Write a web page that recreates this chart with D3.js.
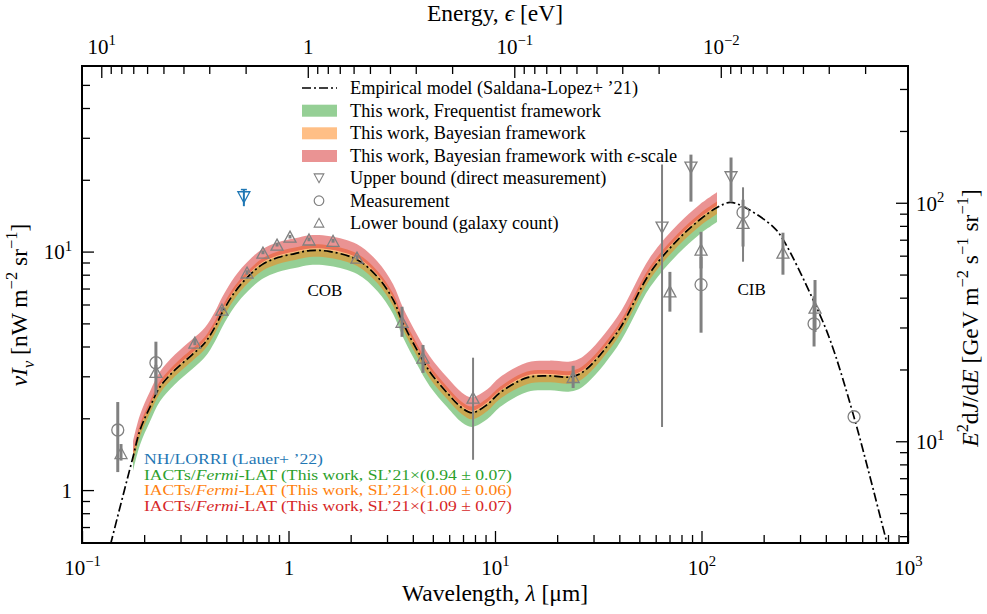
<!DOCTYPE html>
<html><head><meta charset="utf-8">
<script src="https://cdn.jsdelivr.net/npm/d3@7"></script>
<style>
body{margin:0;background:#fff}
svg{font-family:"Liberation Serif","Times New Roman",serif}
</style></head><body><svg id="c" width="987" height="614"></svg>
<script>
// ---------- DATA ----------
const modelLambda = [0.125,0.138,0.1595,0.1766,0.191,0.2134,0.2387,0.282,0.341,0.394,0.441,0.477,0.551,0.637,0.745,0.889,1.075,1.27,1.59,2.15,2.69,3.21,3.58,4.19,4.84,5.86,6.92,7.74,9.15,10.57,14.3,18.5,23.1,26.7,39.0,56.4,76.9,98.4,118.9,137.4,158.9,221.8,248.3,346.8,419,547,791,900];
const modelValue  = [0.43,0.60,0.98,1.376,1.787,2.23,2.71,3.19,3.69,4.15,4.84,5.54,6.79,7.85,8.82,9.44,9.81,10.1,10.0,9.25,7.85,6.29,5.03,3.87,3.13,2.56,2.21,2.11,2.28,2.56,2.96,3.01,2.98,3.13,4.57,8.16,11.23,13.63,15.3,16.07,15.46,12.74,11.23,6.29,4.27,2.03,0.60,0.39];

const bandLambda = [0.1766,0.191,0.2134,0.2387,0.282,0.341,0.394,0.441,0.477,0.551,0.637,0.745,0.889,1.075,1.27,1.59,2.15,2.69,3.21,3.58,4.19,4.84,5.86,6.92,7.74,9.15,10.57,14.3,18.5,23.1,26.7,39.0,56.4,76.9,98.4,118.9];
const freqLow  = [1.20,1.55,1.94,2.36,2.78,3.21,3.61,4.21,4.82,5.91,6.83,7.67,8.21,8.53,8.79,8.70,8.05,6.83,5.47,4.38,3.37,2.72,2.23,1.92,1.84,1.98,2.23,2.58,2.62,2.59,2.72,3.98,7.10,9.77,11.86,13.31];
const freqHigh = [1.39,1.80,2.25,2.74,3.22,3.73,4.19,4.89,5.60,6.86,7.93,8.91,9.53,9.91,10.20,10.10,9.34,7.93,6.35,5.08,3.91,3.16,2.59,2.23,2.13,2.30,2.59,2.99,3.04,3.01,3.16,4.62,8.24,11.34,13.77,15.45];
const bayesLow  = [1.29,1.68,2.10,2.55,3.00,3.47,3.90,4.55,5.21,6.38,7.38,8.29,8.87,9.22,9.49,9.40,8.70,7.38,5.91,4.73,3.64,2.94,2.41,2.08,1.98,2.14,2.41,2.78,2.83,2.80,2.94,4.30,7.67,10.56,12.81,14.38];
const bayesHigh = [1.46,1.89,2.36,2.87,3.38,3.91,4.40,5.13,5.87,7.20,8.32,9.35,10.01,10.40,10.71,10.60,9.81,8.32,6.67,5.33,4.10,3.32,2.71,2.34,2.24,2.42,2.71,3.14,3.19,3.16,3.32,4.84,8.65,11.90,14.45,16.22];
const epsLow  = [1.40,1.82,2.27,2.76,3.25,3.76,4.23,4.94,5.65,6.93,8.01,9.00,9.63,10.01,10.30,10.20,9.44,8.01,6.42,5.13,3.95,3.19,2.61,2.25,2.15,2.33,2.61,3.02,3.07,3.04,3.19,4.66,8.32,11.45,13.90,15.61];
const epsHigh = [1.60,2.07,2.59,3.14,3.70,4.28,4.81,5.61,6.43,7.88,9.11,10.23,10.95,11.38,11.72,11.60,10.73,9.11,7.30,5.83,4.49,3.63,2.97,2.56,2.45,2.64,2.97,3.43,3.49,3.46,3.63,5.30,9.47,13.03,15.81,17.75];

// lower bounds (galaxy counts)
const lowerLambda = [0.1545,0.228,0.352,0.476,0.630,0.752,0.880,1.017,1.257,1.643,2.146,3.546,4.48,7.83,23.9,70.3,99.5,158.9,248,354.6];
const lowerValue  = [1.43,3.13,4.15,5.71,8.17,9.90,10.7,11.55,11.24,11.1,9.44,5.08,3.59,2.44,2.98,6.81,10.2,13.2,9.9,5.82];
const lowerErrLo  = [1.33,2.95,4.05,5.60,8.00,9.75,10.5,11.35,11.05,10.9,9.25,4.39,3.10,1.34,2.68,5.60,8.5,10.5,8.0,4.6];
const lowerErrHi  = [1.56,3.35,4.30,5.85,8.35,10.1,10.9,11.75,11.45,11.3,9.65,5.87,4.06,3.59,3.32,8.22,12.1,16.5,12.0,7.6];
const lowerThinBar = [false,false,false,false,false,false,false,false,false,false,false,false,false,true,false,false,false,false,false,false];

// measurements
const measLambda = [0.149,0.228,99.5,158.9,350.8,548];
const measValue  = [1.786,3.42,7.27,14.6,4.98,2.03];
const measErrLo  = [1.19,2.51,4.57,9.07,4.0,2.03];
const measErrHi  = [2.34,4.19,9.5,18.6,6.5,2.03];
const measThinBar = [false,false,false,true,false,false];

// upper bounds (direct measurements)
const upperLambda = [64.4,88.9,139];
const upperValue  = [12.6,22.5,20.5];
const upperErrLo  = [1.84,16.2,16.1];
const upperErrHi  = [23.2,25.5,24.8];
const upperThinBar = [true,false,false];

// NH/LORRI
const lorriLambda = [0.608];
const lorriValue  = [16.9];
const lorriErrLo  = [15.5];
const lorriErrHi  = [18.2];

const xTickMajor = [0.1,1,10,100,1000];
const xTickLabels = [["10","−1"],["1",null],["10","1"],["10","2"],["10","3"]];
const yTickMajor = [1,10];
const yTickLabels = [["1",null],["10","1"]];
const eTickMajor = [10,1,0.1,0.01];
const eTickLabels = [["10","1"],["1",null],["10","−1"],["10","−2"]];
const y2TickMajor = [10,100];
const y2TickLabels = [["10","1"],["10","2"]];

const legendLabels = [
  [{t:"Empirical model (Saldana-Lopez+ ’21)"}],
  [{t:"This work, Frequentist framework"}],
  [{t:"This work, Bayesian framework"}],
  [{t:"This work, Bayesian framework with "},{t:"ϵ",it:1},{t:"-scale"}],
  [{t:"Upper bound (direct measurement)"}],
  [{t:"Measurement"}],
  [{t:"Lower bound (galaxy count)"}]
];
const annotLines = [
  [{t:"NH/LORRI (Lauer+ ’22)"}],
  [{t:"IACTs/"},{t:"Fermi",it:1},{t:"-LAT (This work, SL’21×(0.94 ± 0.07)"}],
  [{t:"IACTs/"},{t:"Fermi",it:1},{t:"-LAT (This work, SL’21×(1.00 ± 0.06)"}],
  [{t:"IACTs/"},{t:"Fermi",it:1},{t:"-LAT (This work, SL’21×(1.09 ± 0.07)"}]
];
const HC = 1.23984;        // eV·μm
const NW_TO_GEV = 6.2415;  // nW m^-2 sr^-1 -> GeV m^-2 s^-1 sr^-1

// ---------- DRAW ----------
const svg = d3.select("#c");
const L=82,R=908,T=66,B=543;
const x = d3.scaleLog().domain([0.1,1000]).range([L,R]);
const y = d3.scaleLog().domain([0.6,60]).range([B,T]);
const xe = d3.scaleLog().domain([HC/0.1, HC/1000]).range([L,R]);
const y2 = d3.scaleLog().domain([0.6*NW_TO_GEV,60*NW_TO_GEV]).range([B,T]);

const GREEN="#2ca02c",ORANGE="#ff7f0e",RED="#d62728",BLUE="#1f77b4",GREY="#808080";

svg.append("defs").append("clipPath").attr("id","clip").append("rect")
  .attr("x",L).attr("y",T).attr("width",R-L).attr("height",B-T);

function rich(sel, parts, size){
  let shift=0;
  parts.forEach(p=>{
    const ts=sel.append("tspan").text(p.t);
    const target = p.sup? -size*0.42 : p.sub? size*0.28 : 0;
    if(target-shift!==0) ts.attr("dy", target-shift);
    shift=target;
    if(p.sup||p.sub) ts.attr("font-size", size*0.7);
    if(p.it) ts.attr("font-style","italic");
  });
}
function minorTicks(min,max){
  const out=[];
  for(let e=-4;e<=4;e++) for(let k=2;k<=9;k++){const v=k*Math.pow(10,e); if(v>min*1.0001&&v<max*0.9999) out.push(v);}
  return out;
}

// bands
const plot = svg.append("g").attr("clip-path","url(#clip)");
const bands = [[freqLow,freqHigh,GREEN],[bayesLow,bayesHigh,ORANGE],[epsLow,epsHigh,RED]];
bands.forEach(([lo,hi,col])=>{
  const pts = bandLambda.map((l,i)=>({l,lo:lo[i],hi:hi[i]}));
  plot.append("path").datum(pts)
    .attr("d", d3.area().x(d=>x(d.l)).y0(d=>y(d.lo)).y1(d=>y(d.hi)).curve(d3.curveCatmullRom.alpha(0.5)))
    .attr("fill",col).attr("fill-opacity",0.5).attr("stroke","none");
});
// model
const mpts = modelLambda.map((l,i)=>({l,v:modelValue[i]}));
plot.append("path").datum(mpts)
  .attr("d", d3.line().x(d=>x(d.l)).y(d=>y(d.v)).curve(d3.curveCatmullRom.alpha(0.5)))
  .attr("fill","none").attr("stroke","#000").attr("stroke-width",1.7)
  .attr("stroke-dasharray","9,3,2,3");

// markers
const triUp = "M0,-5.5L6,5.5L-6,5.5Z", triDown="M0,5.5L6,-5.5L-6,-5.5Z";
function series(lams, vals, lo, hi, thin, shape, col){
  const g = plot.append("g");
  lams.forEach((l,i)=>{
    if(hi[i]>lo[i]) g.append("line").attr("x1",x(l)).attr("x2",x(l)).attr("y1",y(lo[i])).attr("y2",y(hi[i]))
      .attr("stroke",col).attr("stroke-width", thin&&thin[i]?2:3);
  });
  lams.forEach((l,i)=>{
    if(shape==="circle") g.append("circle").attr("cx",x(l)).attr("cy",y(vals[i])).attr("r",6)
      .attr("fill","none").attr("stroke",col).attr("stroke-width",1.3);
    else g.append("path").attr("d",shape).attr("transform",`translate(${x(l)},${y(vals[i])})`)
      .attr("fill","none").attr("stroke",col).attr("stroke-width",1.3);
  });
  return g;
}
series(measLambda,measValue,measErrLo,measErrHi,measThinBar,"circle",GREY);
series(lowerLambda,lowerValue,lowerErrLo,lowerErrHi,lowerThinBar,triUp,GREY);
series(upperLambda,upperValue,upperErrLo,upperErrHi,upperThinBar,triDown,GREY);
const lg = series(lorriLambda,lorriValue,lorriErrLo,lorriErrHi,null,triDown,BLUE);
lg.selectAll("line").attr("stroke-width",2);
lorriLambda.forEach((l,i)=>{
  lg.append("line").attr("x1",x(l)-3).attr("x2",x(l)+3).attr("y1",y(lorriErrHi[i])).attr("y2",y(lorriErrHi[i]))
    .attr("stroke",BLUE).attr("stroke-width",1.5);
});

// axes
const FS=21, TF=23.5;
function styleAxis(g){ g.select(".domain").remove(); g.selectAll("line").attr("stroke","#000").attr("stroke-width",1.3); }
function labelAxis(g, labels, anchor){
  g.selectAll(".tick text").each(function(d,i){
    const t=d3.select(this); t.text(null).attr("font-size",FS).attr("fill","#000").attr("text-anchor",anchor)
      .attr("font-family","Liberation Serif, serif");
    const lab=labels[i]; const parts=[{t:lab[0]}]; if(lab[1]) parts.push({t:lab[1],sup:1});
    rich(t,parts,FS);
  });
}
// bottom
const gb=svg.append("g").attr("transform",`translate(0,${B})`)
  .call(d3.axisBottom(x).tickValues(xTickMajor).tickSize(-12).tickPadding(12).tickFormat(()=>""));
styleAxis(gb); labelAxis(gb,xTickLabels,"middle");
gb.selectAll(".tick text").attr("dy","0.95em");
const gbm=svg.append("g").attr("transform",`translate(0,${B})`)
  .call(d3.axisBottom(x).tickValues(minorTicks(0.1,1000)).tickSize(-8).tickFormat(()=>""));
styleAxis(gbm);
// top (energy)
const gt=svg.append("g").attr("transform",`translate(0,${T})`)
  .call(d3.axisTop(xe).tickValues(eTickMajor).tickSize(-12).tickPadding(12).tickFormat(()=>""));
styleAxis(gt); labelAxis(gt,eTickLabels,"middle");
const gtm=svg.append("g").attr("transform",`translate(0,${T})`)
  .call(d3.axisTop(xe).tickValues(minorTicks(HC/1000,HC/0.1)).tickSize(-8).tickFormat(()=>""));
styleAxis(gtm);
// left
const gl=svg.append("g").attr("transform",`translate(${L},0)`)
  .call(d3.axisLeft(y).tickValues(yTickMajor).tickSize(-12).tickPadding(10).tickFormat(()=>""));
styleAxis(gl); labelAxis(gl,yTickLabels,"end");
gl.selectAll(".tick text").attr("dy","0.35em");
const glm=svg.append("g").attr("transform",`translate(${L},0)`)
  .call(d3.axisLeft(y).tickValues(minorTicks(0.6,60)).tickSize(-8).tickFormat(()=>""));
styleAxis(glm);
// right
const gr=svg.append("g").attr("transform",`translate(${R},0)`)
  .call(d3.axisRight(y2).tickValues(y2TickMajor).tickSize(-12).tickPadding(8).tickFormat(()=>""));
styleAxis(gr); labelAxis(gr,y2TickLabels,"start");
gr.selectAll(".tick text").attr("dy","0.35em");
const grm=svg.append("g").attr("transform",`translate(${R},0)`)
  .call(d3.axisRight(y2).tickValues(minorTicks(0.6*NW_TO_GEV,60*NW_TO_GEV)).tickSize(-8).tickFormat(()=>""));
styleAxis(grm);

// frame
svg.append("rect").attr("x",L).attr("y",T).attr("width",R-L).attr("height",B-T)
  .attr("fill","none").attr("stroke","#000").attr("stroke-width",2);

// axis titles
rich(svg.append("text").attr("x",(L+R)/2).attr("y",601).attr("text-anchor","middle").attr("font-size",TF),
  [{t:"Wavelength, "},{t:"λ",it:1},{t:" [μm]"}],TF);
rich(svg.append("text").attr("x",(L+R)/2).attr("y",21).attr("text-anchor","middle").attr("font-size",TF),
  [{t:"Energy, "},{t:"ϵ",it:1},{t:" [eV]"}],TF);
rich(svg.append("text").attr("transform","translate(27,305) rotate(-90)").attr("text-anchor","middle").attr("font-size",TF),
  [{t:"ν",it:1},{t:"I",it:1},{t:"ν",it:1,sub:1},{t:" [nW m"},{t:"−2",sup:1},{t:" sr"},{t:"−1",sup:1},{t:"]"}],TF);
rich(svg.append("text").attr("transform","translate(978,318) rotate(-90)").attr("text-anchor","middle").attr("font-size",TF),
  [{t:"E",it:1},{t:"2",sup:1},{t:"d"},{t:"J",it:1},{t:"/d"},{t:"E",it:1},{t:" [GeV m"},{t:"−2",sup:1},{t:" s"},{t:"−1",sup:1},{t:" sr"},{t:"−1",sup:1},{t:"]"}],TF);

// region labels
svg.append("text").attr("x",x(1.5)).attr("y",y(6.5)).attr("text-anchor","middle").attr("font-size",17).text("COB");
svg.append("text").attr("x",x(175)).attr("y",y(6.6)).attr("text-anchor","middle").attr("font-size",17).text("CIB");

// legend
const LF=18.3;
const leg = svg.append("g");
const rowY=[88,110.7,133.3,156,178.3,200.7,222.7];
leg.append("line").attr("x1",302).attr("x2",337).attr("y1",rowY[0]).attr("y2",rowY[0])
  .attr("stroke","#000").attr("stroke-width",1.7).attr("stroke-dasharray","9,3,2,3");
[GREEN,ORANGE,RED].forEach((c,i)=>leg.append("rect").attr("x",302).attr("y",rowY[i+1]-6).attr("width",35).attr("height",12)
  .attr("fill",c).attr("fill-opacity",0.5));
leg.append("path").attr("d",triDown).attr("transform",`translate(319,${rowY[4]}) scale(0.8)`).attr("fill","none").attr("stroke",GREY).attr("stroke-width",1.4);
leg.append("circle").attr("cx",319).attr("cy",rowY[5]).attr("r",4.8).attr("fill","none").attr("stroke",GREY).attr("stroke-width",1.2);
leg.append("path").attr("d",triUp).attr("transform",`translate(319,${rowY[6]}) scale(0.8)`).attr("fill","none").attr("stroke",GREY).attr("stroke-width",1.4);
legendLabels.forEach((parts,i)=>{
  rich(leg.append("text").attr("x",350).attr("y",rowY[i]+6).attr("font-size",LF),parts,LF);
});

// annotations
const AF=14;
const annotCols=[BLUE,GREEN,ORANGE,RED];
const annotY=[464,479.5,495,510.5];
const annotWidth=[179,368,368,368];
annotLines.forEach((parts,i)=>{
  rich(svg.append("text").attr("x",144).attr("y",annotY[i]).attr("font-size",AF).attr("fill",annotCols[i])
    .attr("textLength",annotWidth[i]).attr("lengthAdjust","spacingAndGlyphs"),parts,AF);
});
</script></body></html>
